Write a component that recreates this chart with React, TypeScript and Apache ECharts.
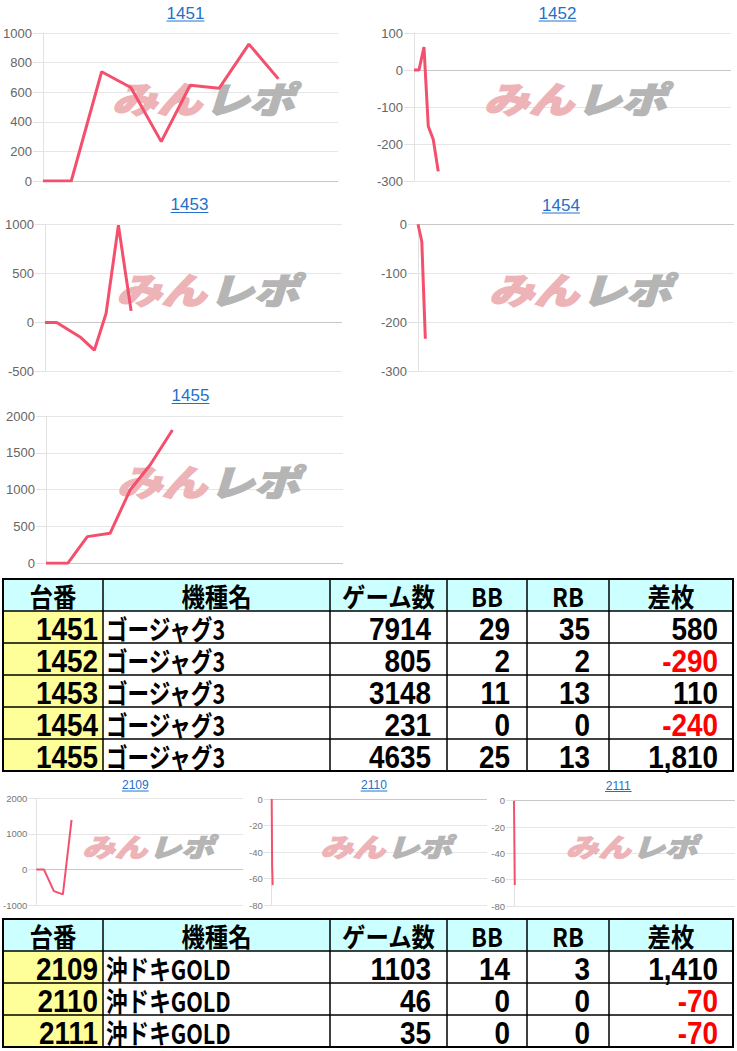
import React, { useEffect, useRef } from "react";
import * as echarts from "echarts";

// ---------------- data ----------------
const machineIds = ["1451", "1452", "1453", "1454", "1455", "2109", "2110", "2111"];

// x: game count, y: coin difference
const games1451 = [0, 960, 1990, 2980, 4010, 4990, 5970, 6980, 7980];
const diff1451 = [0, 0, 738, 632, 266, 647, 626, 925, 690];
const games1452 = [0, 157, 315, 450, 608, 765];
const diff1452 = [0, 0, 62, -152, -188, -274];
const games1453 = [0, 394, 1180, 1662, 2056, 2472, 2899];
const diff1453 = [0, 0, -146, -281, 92, 990, 119];
const games1454 = [0, 120, 232];
const diff1454 = [0, -35, -233];
const games1455 = [0, 731, 1392, 2157, 2831, 3505, 4257];
const diff1455 = [0, 0, 362, 407, 995, 1334, 1810];
const games2109 = [0, 367, 850, 1285, 1705];
const diff2109 = [0, 0, -609, -702, 1395];
const games2110 = [0, 20, 46];
const diff2110 = [0, -50, -65];
const games2111 = [0, 35];
const diff2111 = [0, -64];

const ticks1451 = [0, 200, 400, 600, 800, 1000];
const ticks1452 = [-300, -200, -100, 0, 100];
const ticks1453 = [-500, 0, 500, 1000];
const ticks1454 = [-300, -200, -100, 0];
const ticks1455 = [0, 500, 1000, 1500, 2000];
const ticks2109 = [-1000, 0, 1000, 2000];
const ticks2110 = [-80, -60, -40, -20, 0];
const ticks2111 = [-80, -60, -40, -20, 0];

const tableHeaders = ["台番", "機種名", "ゲーム数", "BB", "RB", "差枚"];

const table1Ids = ["1451", "1452", "1453", "1454", "1455"];
const table1Names = ["ゴージャグ3", "ゴージャグ3", "ゴージャグ3", "ゴージャグ3", "ゴージャグ3"];
const table1Games = [7914, 805, 3148, 231, 4635];
const table1BB = [29, 2, 11, 0, 25];
const table1RB = [35, 2, 13, 0, 13];
const table1Diff = [580, -290, 110, -240, 1810];

const table2Ids = ["2109", "2110", "2111"];
const table2Names = ["沖ドキGOLD", "沖ドキGOLD", "沖ドキGOLD"];
const table2Games = [1103, 46, 35];
const table2BB = [14, 0, 0];
const table2RB = [3, 0, 0];
const table2Diff = [1410, -70, -70];

const X_MAX = 10000;

const chartData = [
  { id: machineIds[0], games: games1451, diffs: diff1451, ticks: ticks1451 },
  { id: machineIds[1], games: games1452, diffs: diff1452, ticks: ticks1452 },
  { id: machineIds[2], games: games1453, diffs: diff1453, ticks: ticks1453 },
  { id: machineIds[3], games: games1454, diffs: diff1454, ticks: ticks1454 },
  { id: machineIds[4], games: games1455, diffs: diff1455, ticks: ticks1455 },
  { id: machineIds[5], games: games2109, diffs: diff2109, ticks: ticks2109 },
  { id: machineIds[6], games: games2110, diffs: diff2110, ticks: ticks2110 },
  { id: machineIds[7], games: games2111, diffs: diff2111, ticks: ticks2111 },
];

// ---------------- layout ----------------
const chartLayouts = [
  { left: 40, top: 33, width: 298, height: 148, titleX: 185.5, titleY: 13, wmX: 203, wmY: 97.5, small: false },
  { left: 414, top: 33, width: 317, height: 148, titleX: 557.5, titleY: 13, wmX: 575, wmY: 97.5, small: false },
  { left: 45, top: 224.3, width: 297, height: 147.4, titleX: 189.5, titleY: 204.5, wmX: 207.5, wmY: 289, small: false },
  { left: 418, top: 224.3, width: 316, height: 147.4, titleX: 561, titleY: 205, wmX: 580, wmY: 289, small: false },
  { left: 46, top: 416, width: 297, height: 147.3, titleX: 190.5, titleY: 395.5, wmX: 208, wmY: 481, small: false },
  { left: 35.7, top: 798.3, width: 207.5, height: 106.7, titleX: 135.3, titleY: 785, wmX: 148, wmY: 845.5, small: true },
  { left: 271.7, top: 799, width: 215.3, height: 106, titleX: 374, titleY: 785, wmX: 386, wmY: 845.5, small: true },
  { left: 514, top: 800.7, width: 221, height: 105.3, titleX: 618.3, titleY: 785.5, wmX: 631.5, wmY: 846, small: true },
];

const COL_X = [3, 103, 330, 447, 527, 609, 733];
const NUM_RIGHT = [98, 0, 431, 510, 590, 718];
const NAME_LEFT = 106;
const TABLE1_ROWS_Y = [579, 611, 643, 675, 707, 739, 771];
const TABLE2_ROWS_Y = [919, 951, 983, 1015, 1047];

const LINE_COLOR = "#f4506d";
const TITLE_COLOR = "#2470c8";
const HEADER_BG = "#ccffff";
const ID_BG = "#ffff99";
const CJK = '"Noto Sans CJK JP", sans-serif';
const LATIN = '"Liberation Sans", Arial, sans-serif';

function text(t: string, x: number, y: number, o: any) {
  return {
    type: "text",
    x,
    y,
    scaleX: o.scaleX ?? 1,
    z: o.z ?? 20,
    silent: true,
    style: {
      text: t,
      fill: o.color ?? "#000",
      fontSize: o.size,
      fontWeight: o.weight ?? "bold",
      fontStyle: o.fontStyle ?? "normal",
      fontFamily: o.family,
      textAlign: o.align ?? "left",
      align: o.align ?? "left",
      textVerticalAlign: "middle",
      verticalAlign: "middle",
    },
  };
}

function watermark(cx: number, cy: number, s: number) {
  const base = {
    fontSize: 36,
    fontWeight: 900,
    fontStyle: "italic",
    fontFamily: CJK,
    textVerticalAlign: "middle",
    verticalAlign: "middle",
  };
  return {
    type: "group",
    x: cx,
    y: cy,
    scaleX: 1.25 * s,
    scaleY: s,
    silent: true,
    children: [
      { type: "text", x: -1, y: 0, z: 1, style: { ...base, text: "みん", fill: "#edb3b6", stroke: "#edb3b6", lineWidth: 1.5, textAlign: "right", align: "right" } },
      { type: "text", x: 1, y: 0, z: 1, style: { ...base, text: "レポ", fill: "#b5b5b5", stroke: "#b5b5b5", lineWidth: 1.5, textAlign: "left", align: "left" } },
    ],
  };
}

function buildTable(rowsY: number[], ids: string[], names: string[], games: number[], bb: number[], rb: number[], diffs: number[]) {
  const els: any[] = [];
  const top = rowsY[0];
  const bottom = rowsY[rowsY.length - 1];
  const left = COL_X[0];
  const right = COL_X[COL_X.length - 1];
  els.push({ type: "rect", z: 15, silent: true, shape: { x: left, y: top, width: right - left, height: rowsY[1] - top }, style: { fill: HEADER_BG } });
  els.push({ type: "rect", z: 15, silent: true, shape: { x: left, y: rowsY[1], width: COL_X[1] - left, height: bottom - rowsY[1] }, style: { fill: ID_BG } });
  rowsY.forEach((y, i) => {
    const w = i === 0 || i === rowsY.length - 1 ? 2 : 1.5;
    els.push({ type: "line", z: 18, silent: true, shape: { x1: left - 1, y1: y, x2: right + 1, y2: y }, style: { stroke: "#000", lineWidth: w } });
  });
  COL_X.forEach((x, i) => {
    const w = i === 0 || i === COL_X.length - 1 ? 2 : 1.5;
    els.push({ type: "line", z: 18, silent: true, shape: { x1: x, y1: top, x2: x, y2: bottom }, style: { stroke: "#000", lineWidth: w } });
  });
  const hy = (rowsY[0] + rowsY[1]) / 2;
  tableHeaders.forEach((h, c) => {
    const cx = (COL_X[c] + COL_X[c + 1]) / 2;
    els.push(text(h, cx, hy, { size: 26, family: CJK, align: "center", scaleX: 0.9 }));
  });
  ids.forEach((id, r) => {
    const cy = (rowsY[r + 1] + rowsY[r + 2]) / 2 + 1.5;
    const num = { size: 31, family: LATIN, align: "right", scaleX: 0.9 };
    els.push(text(id, NUM_RIGHT[0], cy, num));
    els.push(text(names[r], NAME_LEFT, cy, { size: 27, family: CJK, align: "left", scaleX: 0.8 }));
    els.push(text(String(games[r]), NUM_RIGHT[2], cy, num));
    els.push(text(String(bb[r]), NUM_RIGHT[3], cy, num));
    els.push(text(String(rb[r]), NUM_RIGHT[4], cy, num));
    const d = diffs[r];
    const dText = d < 0 ? "-" + Math.abs(d).toLocaleString("en-US") : d.toLocaleString("en-US");
    els.push(text(dText, NUM_RIGHT[5], cy, { ...num, color: d < 0 ? "#ff0000" : "#000" }));
  });
  return els;
}

function buildOption() {
  const grid = chartLayouts.map((l) => ({ left: l.left, top: l.top, width: l.width, height: l.height, containLabel: false }));
  const xAxis = chartLayouts.map((l, i) => ({ type: "value", gridIndex: i, min: 0, max: X_MAX, show: false }));
  const yAxis = chartData.map((c, i) => {
    const l = chartLayouts[i];
    const t = c.ticks;
    return {
      type: "value",
      gridIndex: i,
      min: t[0],
      max: t[t.length - 1],
      interval: t[1] - t[0],
      axisLine: { show: true, onZero: false, lineStyle: { color: "#e2e2e2", width: 1 } },
      axisTick: { show: true, length: l.small ? 8 : 10, lineStyle: { color: "#e2e2e2", width: 1 } },
      axisLabel: {
        color: l.small ? "#777" : "#666",
        fontSize: l.small ? 9.5 : 13,
        margin: l.small ? 9 : 11,
        fontFamily: LATIN,
        formatter: (v: number) => String(v),
      },
      splitLine: { show: true, lineStyle: { color: t.map((v) => (v === 0 ? "#c8c8c8" : "#e6e6e6")), width: 1 } },
    };
  });
  const series = chartData.map((c, i) => ({
    type: "line",
    xAxisIndex: i,
    yAxisIndex: i,
    data: c.games.map((g, k) => [g, c.diffs[k]]),
    showSymbol: false,
    symbol: "none",
    silent: true,
    z: 5,
    lineStyle: { color: LINE_COLOR, width: chartLayouts[i].small ? 2 : 3 },
    itemStyle: { color: LINE_COLOR },
  }));

  const graphics: any[] = [];
  chartData.forEach((c, i) => {
    const l = chartLayouts[i];
    const size = l.small ? 12 : 17;
    graphics.push(text(c.id, l.titleX, l.titleY, { size, family: LATIN, align: "center", weight: "normal", color: TITLE_COLOR, z: 3 }));
    const w = c.id.length * size * 0.556;
    const uy = l.titleY + (l.small ? 6 : 8);
    graphics.push({ type: "line", z: 3, silent: true, shape: { x1: l.titleX - w / 2, y1: uy, x2: l.titleX + w / 2, y2: uy }, style: { stroke: TITLE_COLOR, lineWidth: 1 } });
    graphics.push(watermark(l.wmX, l.wmY, l.small ? 0.72 : 1));
  });
  graphics.push(...buildTable(TABLE1_ROWS_Y, table1Ids, table1Names, table1Games, table1BB, table1RB, table1Diff));
  graphics.push(...buildTable(TABLE2_ROWS_Y, table2Ids, table2Names, table2Games, table2BB, table2RB, table2Diff));

  return {
    animation: false,
    backgroundColor: "#ffffff",
    grid,
    xAxis,
    yAxis,
    series,
    graphic: { elements: graphics },
  };
}

export default function App() {
  const ref = useRef<HTMLDivElement>(null);
  useEffect(() => {
    document.body.style.margin = "0";
    const chart = echarts.init(ref.current as HTMLDivElement, null, { renderer: "svg" });
    chart.setOption(buildOption() as any);
    return () => chart.dispose();
  }, []);
  return <div ref={ref} style={{ width: 737, height: 1051 }} />;
}
